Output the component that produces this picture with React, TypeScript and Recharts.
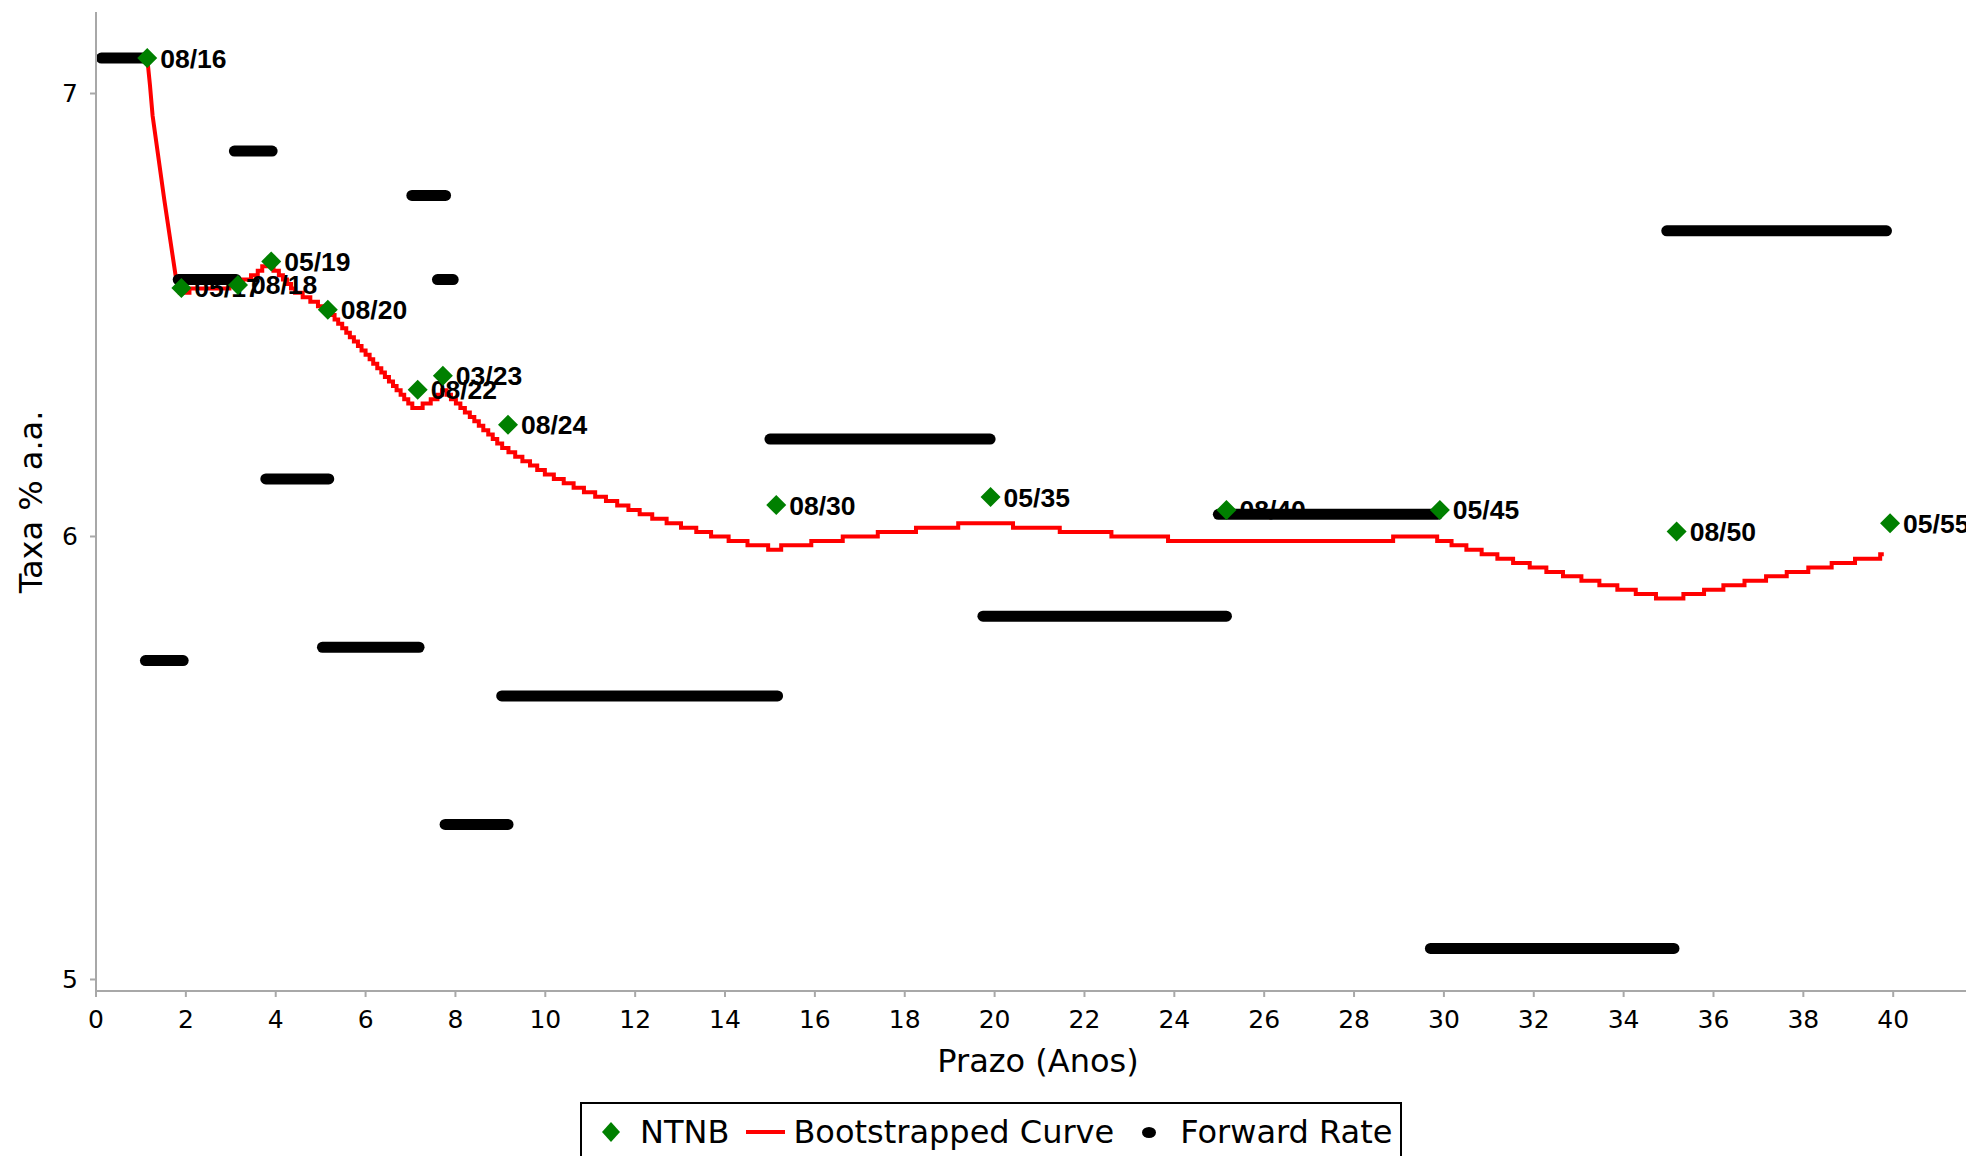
import { ComposedChart, Line, Scatter, XAxis, YAxis, Legend, Label } from 'recharts'

// NTNB bonds (tenor in years, yield % a.a.)
const ntnbLabels = ['08/16', '05/17', '08/18', '05/19', '08/20', '08/22', '03/23', '08/24', '08/30', '05/35', '08/40', '05/45', '08/50', '05/55']
const ntnbTenor = [1.14, 1.9, 3.16, 3.9, 5.16, 7.16, 7.72, 9.17, 15.14, 19.91, 25.16, 29.91, 35.18, 39.93]
const ntnbRate = [7.08, 6.561, 6.568, 6.621, 6.512, 6.331, 6.363, 6.252, 6.071, 6.089, 6.06, 6.06, 6.011, 6.03]

// bootstrapped curve: the steep first part, then the 0.01 steps
const dropTenor = [1.14, 1.2, 1.26, 1.52, 1.77]
const dropRate = [7.08, 7.02, 6.95, 6.76, 6.59]
const stepTenor = [
  1.86, 2.08, 2.97, 3.27, 3.45, 3.6, 3.7, 3.95, 4.07, 4.16, 4.25, 4.34, 4.43, 4.6, 4.77, 4.94, 5.11,
  5.22, 5.31, 5.39, 5.48, 5.57, 5.65, 5.74, 5.83, 5.91, 6.0, 6.09, 6.17, 6.26, 6.35, 6.43, 6.52, 6.61,
  6.69, 6.78, 6.86, 6.95, 7.04, 7.27, 7.45, 7.6, 7.7, 7.8, 7.9, 8.01, 8.11, 8.21, 8.32, 8.42, 8.52,
  8.62, 8.73, 8.83, 8.93, 9.04, 9.18, 9.33, 9.49, 9.66, 9.82, 9.99, 10.19, 10.41, 10.63, 10.86, 11.11,
  11.35, 11.6, 11.85, 12.1, 12.38, 12.7, 13.02, 13.36, 13.69, 14.08, 14.5, 14.96, 15.25, 15.92, 16.62,
  17.4, 18.25, 19.19, 20.41, 21.45, 22.6, 23.86, 28.87, 29.85, 30.17, 30.5, 30.84, 31.19, 31.54, 31.91,
  32.28, 32.65, 33.06, 33.46, 33.86, 34.27, 34.72, 35.33, 35.79, 36.22, 36.69, 37.17, 37.63, 38.11,
  38.63, 39.15, 39.71
]
const stepRate = [
  6.55, 6.56, 6.57, 6.58, 6.59, 6.6, 6.61, 6.6, 6.59, 6.58, 6.57, 6.56, 6.55, 6.54, 6.53, 6.52, 6.51,
  6.5, 6.49, 6.48, 6.47, 6.46, 6.45, 6.44, 6.43, 6.42, 6.41, 6.4, 6.39, 6.38, 6.37, 6.36, 6.35, 6.34,
  6.33, 6.32, 6.31, 6.3, 6.29, 6.3, 6.31, 6.32, 6.33, 6.32, 6.31, 6.3, 6.29, 6.28, 6.27, 6.26, 6.25,
  6.24, 6.23, 6.22, 6.21, 6.2, 6.19, 6.18, 6.17, 6.16, 6.15, 6.14, 6.13, 6.12, 6.11, 6.1, 6.09,
  6.08, 6.07, 6.06, 6.05, 6.04, 6.03, 6.02, 6.01, 6.0, 5.99, 5.98, 5.97, 5.98, 5.99, 6.0,
  6.01, 6.02, 6.03, 6.02, 6.01, 6.0, 5.99, 6.0, 5.99, 5.98, 5.97, 5.96, 5.95, 5.94, 5.93,
  5.92, 5.91, 5.9, 5.89, 5.88, 5.87, 5.86, 5.87, 5.88, 5.89, 5.9, 5.91, 5.92, 5.93,
  5.94, 5.95, 5.96
]
const curveEnd = 39.79

// forward rates between consecutive bonds
const fwdStart = [0.12, 1.1, 1.83, 3.08, 3.78, 5.04, 7.03, 7.6, 7.77, 9.03, 15.0, 19.74, 24.98, 29.7, 34.96]
const fwdEnd = [1.05, 1.94, 3.12, 3.92, 5.18, 7.19, 7.78, 7.95, 9.17, 15.17, 19.9, 25.16, 29.86, 35.12, 39.85]
const fwdRate = [7.08, 5.72, 6.58, 6.87, 6.13, 5.75, 6.77, 6.58, 5.35, 5.64, 6.22, 5.82, 6.05, 5.07, 6.69]

const xTicks = [0, 2, 4, 6, 8, 10, 12, 14, 16, 18, 20, 22, 24, 26, 28, 30, 32, 34, 36, 38, 40]
const yTicks = [5, 6, 7]

const ntnbData = ntnbTenor.map((x, i) => ({ x, y: ntnbRate[i], label: ntnbLabels[i] }))
const curveData = [
  ...dropTenor.map((x, i) => ({ x, y: dropRate[i] })),
  ...stepTenor.flatMap((x, i) => [
    { x, y: stepRate[i] },
    { x: i < stepTenor.length - 1 ? stepTenor[i + 1] : curveEnd, y: stepRate[i] }
  ])
]
const fwdData = fwdStart.map((s, i) => [
  { x: s, y: fwdRate[i] },
  { x: fwdEnd[i], y: fwdRate[i] }
])

const axisFont = "'DejaVu Sans', sans-serif"
const labelFont = "'Liberation Sans', Arial, sans-serif"

const Diamond = ({ cx, cy }: any) => (
  <path d={`M${cx},${cy - 10}L${cx + 10},${cy}L${cx},${cy + 10}L${cx - 10},${cy}Z`} fill='#008000' />
)

const BondLabel = ({ cx, cy, payload }: any) => (
  <text x={cx + 13} y={cy + 9.5} fontFamily={labelFont} fontWeight='bold' fontSize={26.5} fill='#000'>
    {payload.label}
  </text>
)

const LegendBox = () => (
  <div
    style={{
      boxSizing: 'border-box',
      width: 822,
      height: 60,
      border: '2px solid #000',
      background: '#fff',
      display: 'flex',
      alignItems: 'center',
      fontFamily: axisFont,
      fontSize: 32,
      color: '#000',
      paddingLeft: 20,
      whiteSpace: 'nowrap'
    }}
  >
    <svg width={18} height={20}>
      <path d='M9,0L18,10L9,20L0,10Z' fill='#008000' />
    </svg>
    <span style={{ marginLeft: 20 }}>NTNB</span>
    <div style={{ width: 39, height: 4, background: '#ff0000', marginLeft: 17 }} />
    <span style={{ marginLeft: 8 }}>Bootstrapped Curve</span>
    <div style={{ width: 14, height: 11, borderRadius: '50%', background: '#000', marginLeft: 28 }} />
    <span style={{ marginLeft: 24 }}>Forward Rate</span>
  </div>
)

export default function App() {
  return (
    <div style={{ position: 'absolute', left: 0, top: 0, background: '#fff' }}>
      <ComposedChart width={1966} height={1156} margin={{ top: 12, right: 0, bottom: 0, left: 0 }}>
        <XAxis
          type='number'
          dataKey='x'
          domain={[0, 41.62]}
          ticks={xTicks}
          allowDataOverflow
          height={165}
          stroke='#a8a8a8'
          strokeWidth={2}
          tickSize={6}
          tickMargin={13}
          tick={{ fill: '#000', fontSize: 25, fontFamily: axisFont }}
        >
          <Label
            content={() => (
              <text x={1038} y={1072} textAnchor='middle' fontFamily={axisFont} fontSize={32} fill='#000'>
                Prazo (Anos)
              </text>
            )}
          />
        </XAxis>
        <YAxis
          type='number'
          dataKey='y'
          domain={[4.974, 7.184]}
          ticks={yTicks}
          allowDataOverflow
          width={96}
          stroke='#a8a8a8'
          strokeWidth={2}
          tickSize={6}
          tickMargin={12}
          tick={{ fill: '#000', fontSize: 25, fontFamily: axisFont }}
        >
          <Label
            content={() => (
              <text
                x={31}
                y={502}
                transform='rotate(-90 31 502)'
                textAnchor='middle'
                dominantBaseline='central'
                fontFamily={axisFont}
                fontSize={32}
                fill='#000'
              >
                Taxa % a.a.
              </text>
            )}
          />
        </YAxis>
        <Scatter data={ntnbData} dataKey='y' shape={BondLabel} isAnimationActive={false} />
        <Line
          data={curveData}
          dataKey='y'
          type='linear'
          stroke='#ff0000'
          strokeWidth={4}
          dot={false}
          activeDot={false}
          isAnimationActive={false}
        />
        {fwdData.map((seg, i) => (
          <Line
            key={`fwd-${i}`}
            data={seg}
            dataKey='y'
            type='linear'
            stroke='#000'
            strokeWidth={11}
            strokeLinecap='round'
            dot={false}
            activeDot={false}
            isAnimationActive={false}
          />
        ))}
        <Scatter data={ntnbData} dataKey='y' shape={Diamond} isAnimationActive={false} />
        <Legend
          layout='horizontal'
          verticalAlign='middle'
          align='center'
          wrapperStyle={{ left: 580, top: 1102, width: 822, height: 60 }}
          content={() => <LegendBox />}
        />
      </ComposedChart>
    </div>
  )
}
